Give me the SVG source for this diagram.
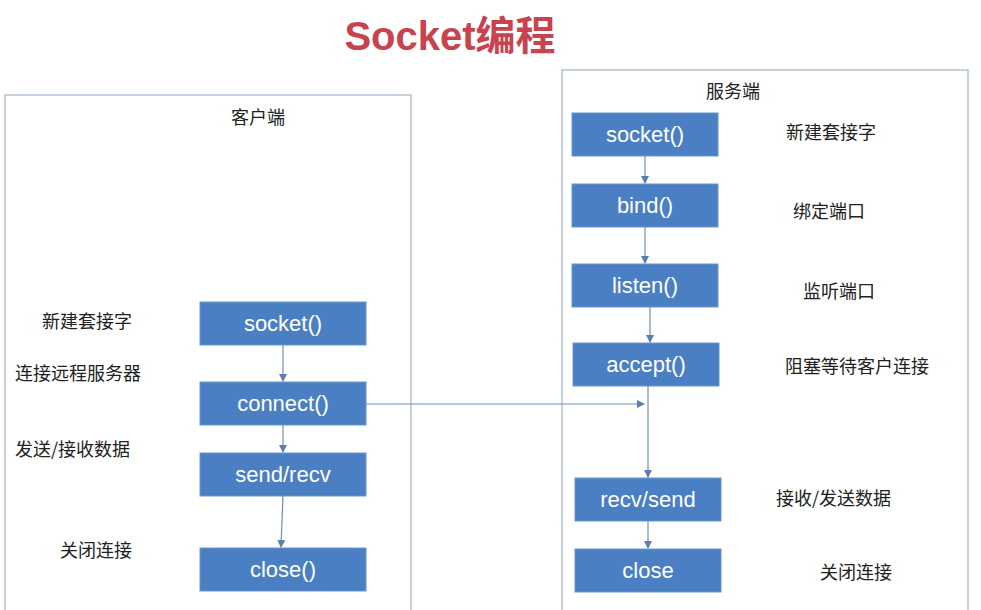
<svg xmlns="http://www.w3.org/2000/svg" width="981" height="610" viewBox="0 0 981 610">
<style>
.frame{fill:none;stroke:#9fb4cc;stroke-width:1.2}
.node rect{fill:#4a7fc3;stroke:#6b95cc;stroke-width:1}
.node text{fill:#fff;font-family:"Liberation Sans",Arial,sans-serif;font-size:22px;text-anchor:middle}
.lbl{fill:#222;font-family:"Noto Sans CJK SC",sans-serif;font-size:18px}
.conn line{stroke:#6f8fb8;stroke-width:1.2;marker-end:url(#ah)}
</style>
<defs><marker id="ah" markerWidth="8" markerHeight="8" refX="7" refY="4" orient="auto" markerUnits="userSpaceOnUse"><path d="M0,0 L8,4 L0,8 z" fill="#5a7fb0"/></marker></defs>
<rect width="981" height="610" fill="#fff"/>
<text x="450" y="50" text-anchor="middle" font-family="'Liberation Sans','Noto Sans CJK SC',sans-serif" font-size="40" font-weight="bold" fill="#c9434f">Socket编程</text>
<rect class="frame" x="5" y="95" width="406" height="520"/>
<rect class="frame" x="562" y="70" width="406" height="545"/>
<text class="lbl" x="258" y="124" text-anchor="middle">客户端</text>
<text class="lbl" x="733" y="98" text-anchor="middle">服务端</text>
<g class="conn">
<line x1="283" y1="345" x2="283" y2="381"/>
<line x1="283" y1="425" x2="283" y2="452"/>
<line x1="283" y1="496" x2="281" y2="547"/>
<line x1="645" y1="156" x2="645" y2="183"/>
<line x1="645" y1="227" x2="645" y2="263"/>
<line x1="650" y1="307" x2="650" y2="342"/>
<line x1="648" y1="386" x2="648" y2="477"/>
<line x1="648" y1="521" x2="648" y2="548"/>
<line x1="366" y1="404" x2="644" y2="404"/>
</g>
<g id="c-socket" class="node"><rect x="200" y="302" width="166" height="43"/><text x="283" y="331">socket()</text></g>
<g id="c-connect" class="node"><rect x="200" y="382" width="166" height="43"/><text x="283" y="411">connect()</text></g>
<g id="c-send" class="node"><rect x="200" y="453" width="166" height="43"/><text x="283" y="482">send/recv</text></g>
<g id="c-close" class="node"><rect x="200" y="548" width="166" height="43"/><text x="283" y="577">close()</text></g>
<g id="s-socket" class="node"><rect x="572" y="113" width="146" height="43"/><text x="645" y="142">socket()</text></g>
<g id="s-bind" class="node"><rect x="572" y="184" width="146" height="43"/><text x="645" y="213">bind()</text></g>
<g id="s-listen" class="node"><rect x="572" y="264" width="146" height="43"/><text x="645" y="293">listen()</text></g>
<g id="s-accept" class="node"><rect x="573" y="343" width="146" height="43"/><text x="646" y="372">accept()</text></g>
<g id="s-recv" class="node"><rect x="575" y="478" width="146" height="43"/><text x="648" y="507">recv/send</text></g>
<g id="s-close" class="node"><rect x="575" y="549" width="146" height="43"/><text x="648" y="578">close</text></g>
<text class="lbl" x="42" y="328">新建套接字</text>
<text class="lbl" x="15" y="380">连接远程服务器</text>
<text class="lbl" x="15" y="456">发送/接收数据</text>
<text class="lbl" x="60" y="557">关闭连接</text>
<text class="lbl" x="786" y="139">新建套接字</text>
<text class="lbl" x="793" y="218">绑定端口</text>
<text class="lbl" x="803" y="298">监听端口</text>
<text class="lbl" x="785" y="373">阻塞等待客户连接</text>
<text class="lbl" x="776" y="505">接收/发送数据</text>
<text class="lbl" x="820" y="579">关闭连接</text>
</svg>
